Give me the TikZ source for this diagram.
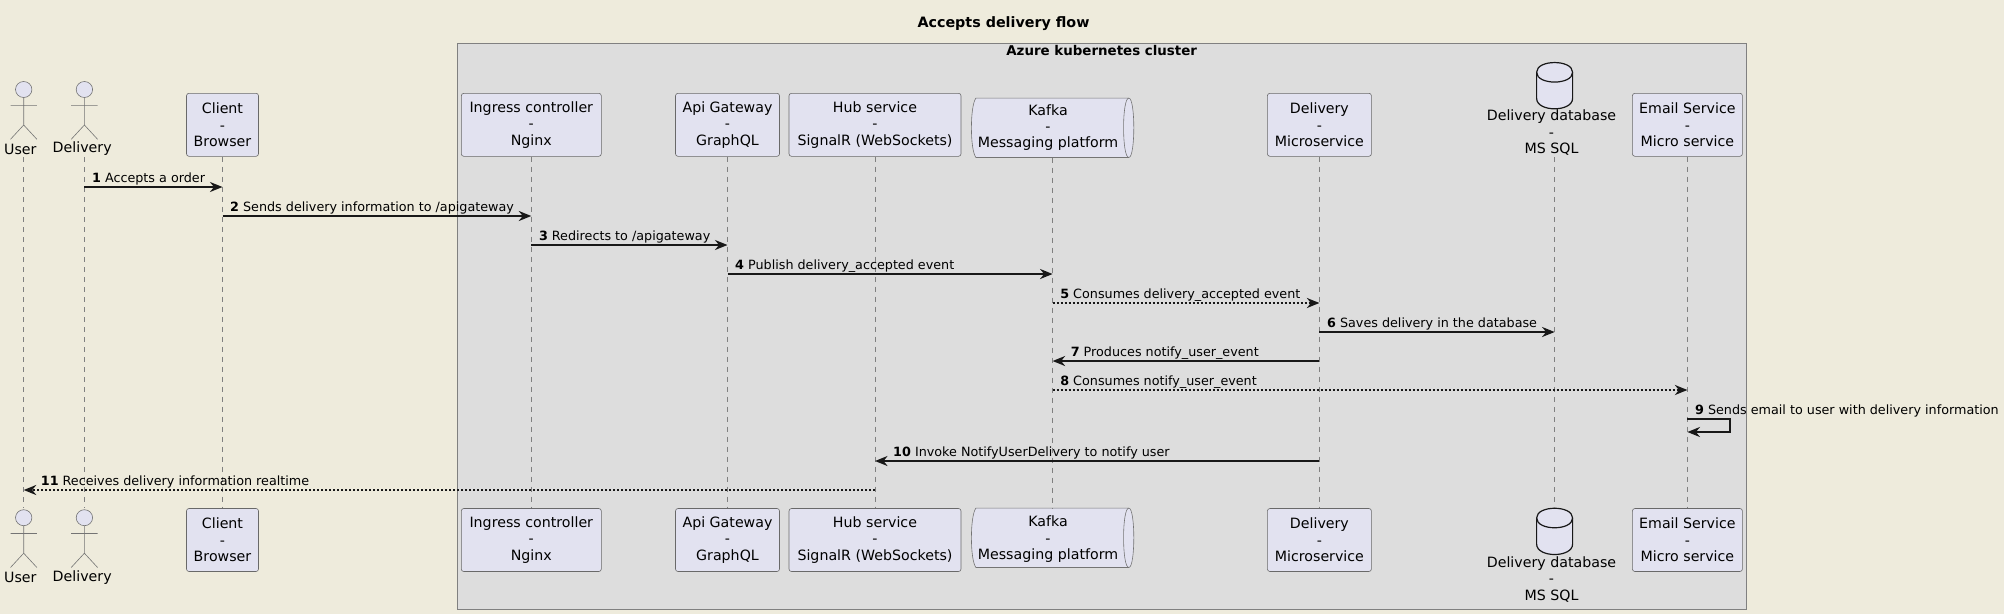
\documentclass[tikz,border=0pt]{standalone}
\usepackage{fontspec}
\setmainfont{DejaVu Sans}
\usetikzlibrary{arrows.meta,calc}
\definecolor{bgc}{HTML}{EEEBDC}
\definecolor{boxc}{HTML}{DDDDDD}
\definecolor{partc}{HTML}{E2E2F0}
\definecolor{linec}{HTML}{181818}
\tikzset{
  partbox/.style={draw=linec!65,line width=.6pt,fill=partc,rounded corners=2.5pt,inner sep=0pt,align=center,minimum height=63pt,font=\fontsize{14.2}{16.4}\selectfont},
  plainbox/.style={inner sep=0pt,align=center,font=\fontsize{14.2}{16.4}\selectfont},
  actorline/.style={draw=linec!60,line width=.6pt,fill=partc},
  life/.style={draw=linec!55,line width=.5pt,dash pattern=on 5pt off 5pt},
  msg/.style={draw=linec,line width=2pt,-{Stealth[length=12.5pt,width=10pt,inset=4pt]}},
  dmsg/.style={msg,dash pattern=on 2pt off 2pt},
  lbl/.style={inner sep=0pt,anchor=base west,font=\fontsize{12.75}{15}\selectfont},
  cyl/.style={draw=linec,line width=1.2pt,fill=partc},
}
\newcommand{\actorfig}[5]{% name, x, yoffset, label, labelx
  \draw[actorline] (#2,#3+89.5) ellipse [x radius=8.2,y radius=8];
  \draw[actorline,fill=none] (#2,#3+97.5) -- (#2,#3+125) (#2-13.2,#3+105.3) -- (#2+13.2,#3+105.3)
    (#2-13.2,#3+139.3) -- (#2,#3+125) -- (#2+13.2,#3+139.3);
  \node[plainbox] (#1) at (#5,#3+149) {#4};
}
\newcommand{\kafkashape}[1]{%
  \draw[actorline] ($(#1.north west)+(4.5,0)$) -- ($(#1.north east)+(-5,0)$)
    .. controls ($(#1.north east)+(1.67,0)$) and ($(#1.south east)+(1.67,0)$) .. ($(#1.south east)+(-5,0)$)
    -- ($(#1.south west)+(4.5,0)$)
    .. controls ($(#1.south west)+(-1.5,-8)$) and ($(#1.north west)+(-1.5,8)$) .. ($(#1.north west)+(4.5,0)$) -- cycle;
  \draw[actorline,fill=none] ($(#1.north east)+(-5,0)$)
    .. controls ($(#1.north east)+(-12,0)$) and ($(#1.south east)+(-12,0)$) .. ($(#1.south east)+(-5,0)$);
}
\newcommand{\cylshape}[2]{% xcenter, ytop
  \draw[cyl] (#1-18,#2+10) .. controls (#1-18,#2-3) and (#1+18,#2-3) .. (#1+18,#2+10)
    -- (#1+18,#2+36) .. controls (#1+18,#2+50) and (#1-18,#2+50) .. (#1-18,#2+36) -- cycle;
  \draw[cyl,fill=none] (#1-18,#2+10) .. controls (#1-18,#2+23) and (#1+18,#2+23) .. (#1+18,#2+10);
}
\begin{document}
\begin{tikzpicture}[x=1pt,y=-1pt]
\useasboundingbox (0,0) rectangle (2004,614);
\fill[bgc] (0,0) rectangle (2004,614);
% cluster
\draw[draw=linec!55,line width=1pt,fill=boxc] (457.5,43.5) rectangle (1746.5,609.5);
\node[inner sep=0pt,font=\fontsize{13.4}{15}\selectfont\bfseries] (clustertitle) at (1101.7,50.7) {Azure kubernetes cluster};
\node[inner sep=0pt,font=\fontsize{14.3}{16}\selectfont\bfseries] (title) at (1003.5,23.5) {Accepts delivery flow};
% lifeline ends
\foreach \n/\x in {usr/23.7,dlv/84.4,dbs/1554.6}{
  \coordinate (\n T) at (\x,157);
  \coordinate (\n B) at (\x,508);
}
% heads
\actorfig{usrH}{23.7}{0}{User}{20.3}
\actorfig{dlvH}{84.4}{0}{Delivery}{82.2}
\node[partbox,minimum width=72pt] (cliT) at (222.5,124.8) {Client\\-\\Browser};
\node[partbox,minimum width=140pt] (ingT) at (531.3,124.8) {Ingress controller\\-\\Nginx};
\node[partbox,minimum width=104pt] (apiT) at (727.5,124.8) {Api Gateway\\-\\GraphQL};
\node[partbox,minimum width=172pt] (hubT) at (875,124.8) {Hub service\\-\\SignalR (WebSockets)};
\node[inner sep=0pt,minimum width=162pt,minimum height=59pt] (kafT) at (1052.6,127.8) {};
\kafkashape{kafT}
\node[plainbox] (kafTL) at (1048,127.6) {Kafka\\-\\Messaging platform};
\node[partbox,minimum width=104pt] (msvT) at (1319.4,124.8) {Delivery\\-\\Microservice};
\cylshape{1554.6}{62.3}
\node[plainbox] (dbsTL) at (1551.5,132.6) {Delivery database\\-\\MS SQL};
\node[partbox,minimum width=110pt] (emlT) at (1687.4,124.8) {Email Service\\-\\Micro service};
% feet
\actorfig{usrF}{23.7}{428.2}{User}{20.3}
\actorfig{dlvF}{84.4}{428.2}{Delivery}{82.2}
\node[partbox,minimum width=72pt] (cliB) at (222.5,540) {Client\\-\\Browser};
\node[partbox,minimum width=140pt] (ingB) at (531.3,540) {Ingress controller\\-\\Nginx};
\node[partbox,minimum width=104pt] (apiB) at (727.5,540) {Api Gateway\\-\\GraphQL};
\node[partbox,minimum width=172pt] (hubB) at (875,540) {Hub service\\-\\SignalR (WebSockets)};
\node[inner sep=0pt,minimum width=162pt,minimum height=59pt] (kafB) at (1052.6,537.8) {};
\kafkashape{kafB}
\node[plainbox] (kafBL) at (1048,539.2) {Kafka\\-\\Messaging platform};
\node[partbox,minimum width=104pt] (msvB) at (1319.4,540) {Delivery\\-\\Microservice};
\cylshape{1554.6}{508}
\node[plainbox] (dbsBL) at (1551.5,579.3) {Delivery database\\-\\MS SQL};
\node[partbox,minimum width=110pt] (emlB) at (1687.4,540) {Email Service\\-\\Micro service};
% lifelines
\draw[life] (usrT) -- (usrB);
\draw[life] (dlvT) -- (dlvB);
\draw[life] (dbsT) -- (dbsB);
\foreach \n in {cli,ing,api,hub,kaf,msv,eml}{\draw[life] (\n T.south) -- (\n B.north);}
% message rows
\foreach \i/\y in {1/187,2/216,3/245,4/274,5/303,6/332,7/361,8/390,9/419,9b/432,10/461,11/490}{\coordinate (m\i) at (0,\y);}
\draw[msg] (dlvT |- m1) -- (cliT.south |- m1);
\draw[msg] (cliT.south |- m2) -- (ingT.south |- m2);
\draw[msg] (ingT.south |- m3) -- (apiT.south |- m3);
\draw[msg] (apiT.south |- m4) -- (kafT.south |- m4);
\draw[dmsg] (kafT.south |- m5) -- (msvT.south |- m5);
\draw[msg] (msvT.south |- m6) -- (dbsT |- m6);
\draw[msg] (msvT.south |- m7) -- (kafT.south |- m7);
\draw[dmsg] (kafT.south |- m8) -- (emlT.south |- m8);
\draw[msg] (emlT.south |- m9) -- ++(43,0) |- (emlT.south |- m9b);
\draw[msg] (msvT.south |- m10) -- (hubT.south |- m10);
\draw[dmsg] (hubT.south |- m11) -- (usrT |- m11);
% labels
\node[lbl] (l1) at ($(dlvT |- m1)+(7.5,-5)$) {\textbf{1} Accepts a order};
\node[lbl] (l2) at ($(cliT.south |- m2)+(7.5,-5)$) {\textbf{2} Sends delivery information to /apigateway};
\node[lbl] (l3) at ($(ingT.south |- m3)+(7.5,-5)$) {\textbf{3} Redirects to /apigateway};
\node[lbl] (l4) at ($(apiT.south |- m4)+(7.5,-5)$) {\textbf{4} Publish delivery\_accepted event};
\node[lbl] (l5) at ($(kafT.south |- m5)+(7.5,-5)$) {\textbf{5} Consumes delivery\_accepted event};
\node[lbl] (l6) at ($(msvT.south |- m6)+(7.5,-5)$) {\textbf{6} Saves delivery in the database};
\node[lbl] (l7) at ($(kafT.south |- m7)+(18,-5)$) {\textbf{7} Produces notify\_user\_event};
\node[lbl] (l8) at ($(kafT.south |- m8)+(7.5,-5)$) {\textbf{8} Consumes notify\_user\_event};
\node[lbl] (l9) at ($(emlT.south |- m9)+(7.5,-5)$) {\textbf{9} Sends email to user with delivery information};
\node[lbl] (l10) at ($(hubT.south |- m10)+(18,-5)$) {\textbf{10} Invoke NotifyUserDelivery to notify user};
\node[lbl] (l11) at ($(usrT |- m11)+(17,-4.5)$) {\textbf{11} Receives delivery information realtime};
\end{tikzpicture}
\end{document}
